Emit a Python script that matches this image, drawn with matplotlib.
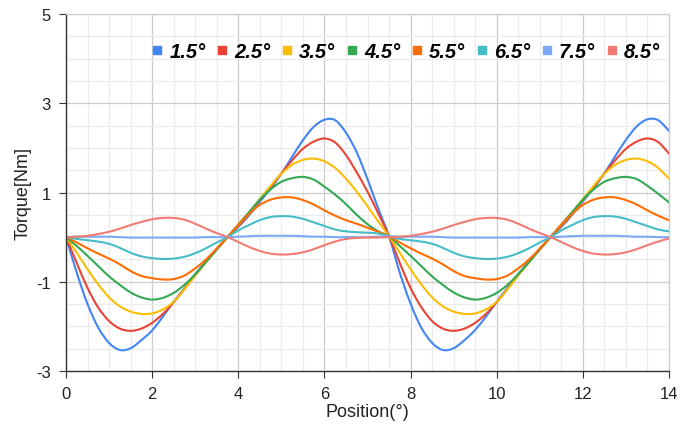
import matplotlib
matplotlib.use("Agg")
import matplotlib.pyplot as plt
from matplotlib.lines import Line2D
from matplotlib.path import Path
from matplotlib.patches import PathPatch
from matplotlib.ticker import MultipleLocator

plt.rcParams['font.family'] = ['Liberation Sans', 'DejaVu Sans']
plt.rcParams['axes.unicode_minus'] = False

# positions in degrees, 0.25 steps from 0 to 14
positions = [i * 0.25 for i in range(57)]

labels = ['1.5°', '2.5°', '3.5°', '4.5°', '5.5°', '6.5°', '7.5°', '8.5°']
colors = ['#4285F4', '#EA4335', '#FBBC04', '#34A853', '#FF6D01', '#46BDC6', '#7BAAF7', '#F07B72']

t_15 = [0, -0.80, -1.50, -2.03, -2.37, -2.53, -2.49, -2.31, -2.09, -1.78, -1.45, -1.15, -0.83, -0.54, -0.26,
        0, 0.23, 0.49, 0.79, 1.09, 1.42, 1.80, 2.17, 2.47, 2.63, 2.62, 2.34, 1.90, 1.30, 0.64, 0.02,
        -0.80, -1.49, -2.03, -2.37, -2.53, -2.49, -2.31, -2.08, -1.78, -1.45, -1.14, -0.83, -0.54, -0.26,
        0.0, 0.23, 0.50, 0.80, 1.10, 1.43, 1.81, 2.18, 2.48, 2.64, 2.62, 2.38]
t_25 = [0, -0.58, -1.14, -1.58, -1.88, -2.05, -2.10, -2.05, -1.92, -1.72, -1.46, -1.16, -0.85, -0.56, -0.27,
        0, 0.25, 0.52, 0.83, 1.12, 1.43, 1.72, 1.98, 2.14, 2.21, 2.12, 1.84, 1.45, 1.02, 0.53, 0.02,
        -0.58, -1.14, -1.57, -1.88, -2.05, -2.10, -2.05, -1.92, -1.72, -1.46, -1.16, -0.85, -0.56, -0.27,
        0.0, 0.25, 0.52, 0.83, 1.12, 1.43, 1.72, 1.98, 2.14, 2.21, 2.13, 1.87]
t_35 = [0, -0.35, -0.72, -1.06, -1.35, -1.55, -1.67, -1.72, -1.71, -1.62, -1.45, -1.17, -0.86, -0.56, -0.27,
        0, 0.27, 0.55, 0.85, 1.15, 1.42, 1.62, 1.73, 1.76, 1.70, 1.55, 1.31, 1.02, 0.69, 0.35, 0.02,
        -0.35, -0.72, -1.06, -1.35, -1.55, -1.67, -1.72, -1.71, -1.62, -1.45, -1.17, -0.86, -0.56, -0.27,
        0.0, 0.27, 0.55, 0.85, 1.15, 1.42, 1.62, 1.73, 1.76, 1.70, 1.55, 1.31]
t_45 = [0, -0.20, -0.42, -0.65, -0.88, -1.07, -1.24, -1.35, -1.40, -1.36, -1.25, -1.07, -0.83, -0.56, -0.28,
        0, 0.28, 0.56, 0.84, 1.07, 1.24, 1.32, 1.35, 1.29, 1.13, 0.95, 0.74, 0.50, 0.29, 0.13, 0.02,
        -0.20, -0.42, -0.65, -0.88, -1.07, -1.24, -1.35, -1.40, -1.36, -1.25, -1.07, -0.83, -0.56, -0.28,
        0.0, 0.28, 0.56, 0.84, 1.07, 1.24, 1.32, 1.35, 1.30, 1.15, 0.97, 0.78]
t_55 = [0, -0.12, -0.25, -0.37, -0.48, -0.61, -0.76, -0.87, -0.92, -0.95, -0.94, -0.86, -0.70, -0.50, -0.26,
        0, 0.28, 0.52, 0.72, 0.84, 0.89, 0.89, 0.83, 0.73, 0.60, 0.48, 0.38, 0.30, 0.21, 0.12, 0.02,
        -0.12, -0.25, -0.37, -0.48, -0.61, -0.76, -0.87, -0.92, -0.95, -0.94, -0.86, -0.70, -0.50, -0.26,
        0.0, 0.28, 0.52, 0.72, 0.84, 0.89, 0.89, 0.83, 0.73, 0.60, 0.48, 0.38]
t_65 = [0, -0.04, -0.07, -0.10, -0.15, -0.24, -0.35, -0.43, -0.47, -0.49, -0.48, -0.44, -0.36, -0.25, -0.12,
        0, 0.15, 0.27, 0.38, 0.45, 0.47, 0.46, 0.41, 0.33, 0.25, 0.17, 0.13, 0.11, 0.10, 0.08, 0.02,
        -0.04, -0.07, -0.10, -0.15, -0.24, -0.35, -0.43, -0.47, -0.49, -0.48, -0.44, -0.36, -0.25, -0.12,
        0.0, 0.15, 0.27, 0.38, 0.45, 0.47, 0.46, 0.41, 0.33, 0.25, 0.17, 0.13]
t_75 = [0, 0.01, 0.01, 0.01, 0.01, 0.0, -0.01, -0.01, -0.01, -0.01, -0.01, -0.01, -0.01, 0.0, 0.0,
        0, 0.01, 0.02, 0.03, 0.03, 0.03, 0.03, 0.02, 0.01, 0.01, 0.0, 0.0, 0.0, 0.0, 0.01, 0.02,
        0.01, 0.01, 0.01, 0.01, 0.0, -0.01, -0.01, -0.01, -0.01, -0.01, -0.01, -0.01, 0.0, 0.0,
        0.0, 0.01, 0.02, 0.03, 0.03, 0.03, 0.03, 0.02, 0.01, 0.01, 0.0, 0.0]
t_85 = [0, 0.01, 0.03, 0.07, 0.12, 0.19, 0.27, 0.34, 0.40, 0.43, 0.43, 0.39, 0.30, 0.19, 0.09,
        0, -0.11, -0.22, -0.31, -0.37, -0.39, -0.38, -0.34, -0.27, -0.18, -0.10, -0.04, -0.02, -0.01, -0.01, 0.0,
        0.01, 0.03, 0.07, 0.12, 0.19, 0.27, 0.34, 0.40, 0.43, 0.43, 0.39, 0.30, 0.19, 0.09,
        0.0, -0.11, -0.22, -0.31, -0.37, -0.39, -0.38, -0.34, -0.27, -0.18, -0.10, -0.03]

series = [t_15, t_25, t_35, t_45, t_55, t_65, t_75, t_85]


def smooth_path(xs, ys):
    # cubic bezier through every point (like a "smooth line" chart option)
    n = len(xs)
    verts = [(xs[0], ys[0])]
    codes = [Path.MOVETO]
    for i in range(n - 1):
        x0, y0 = (xs[i - 1], ys[i - 1]) if i > 0 else (xs[i], ys[i])
        x3, y3 = (xs[i + 2], ys[i + 2]) if i + 2 < n else (xs[i + 1], ys[i + 1])
        c1 = (xs[i] + (xs[i + 1] - x0) / 6, ys[i] + (ys[i + 1] - y0) / 6)
        c2 = (xs[i + 1] - (x3 - xs[i]) / 6, ys[i + 1] - (y3 - ys[i]) / 6)
        verts += [c1, c2, (xs[i + 1], ys[i + 1])]
        codes += [Path.CURVE4] * 3
    return Path(verts, codes)


fig = plt.figure(figsize=(6.91, 4.31), dpi=100)
ax = fig.add_axes([66 / 691, 1 - 372 / 431, 603 / 691, 357 / 431])

for vals, col in zip(series, colors):
    patch = PathPatch(smooth_path(positions, vals), facecolor='none', edgecolor=col,
                      lw=1.5, capstyle='round', joinstyle='round')
    patch.set_clip_on(True)
    ax.add_patch(patch)

ax.set_xlim(0, 14)
ax.set_ylim(-3, 5)
ax.xaxis.set_major_locator(MultipleLocator(2))
ax.xaxis.set_minor_locator(MultipleLocator(0.5))
ax.set_yticks([-3, -1, 1, 3, 5])
ax.yaxis.set_minor_locator(MultipleLocator(0.5))
ax.grid(which='major', color='#cccccc', lw=0.9)
ax.grid(which='minor', color='#ebebeb', lw=0.8)
ax.set_axisbelow(True)

for s in ['top', 'right']:
    ax.spines[s].set_color('#cccccc')
    ax.spines[s].set_linewidth(0.9)
for s in ['left', 'bottom']:
    ax.spines[s].set_color('#333333')
    ax.spines[s].set_linewidth(1.0)
ax.tick_params(which='major', length=5, color='#333333', labelsize=12, labelcolor='#222222', pad=6)
ax.tick_params(which='minor', length=0)

ax.set_xlabel('Position(°)', fontsize=13, color='#222222', labelpad=1)
ax.set_ylabel('Torque[Nm]', fontsize=13, color='#222222', labelpad=3)

handles = [Line2D([], [], marker='s', ls='', color=c, markersize=5.5) for c in colors]
ax.legend(handles, labels, ncol=8, loc='upper right', bbox_to_anchor=(1.005, 0.955),
          frameon=False, handlelength=0.6, handletextpad=0.3, columnspacing=0.53,
          prop={'weight': 'bold', 'style': 'italic', 'size': 14.5}, borderaxespad=0.2)

fig.savefig('out.png', dpi=100)
